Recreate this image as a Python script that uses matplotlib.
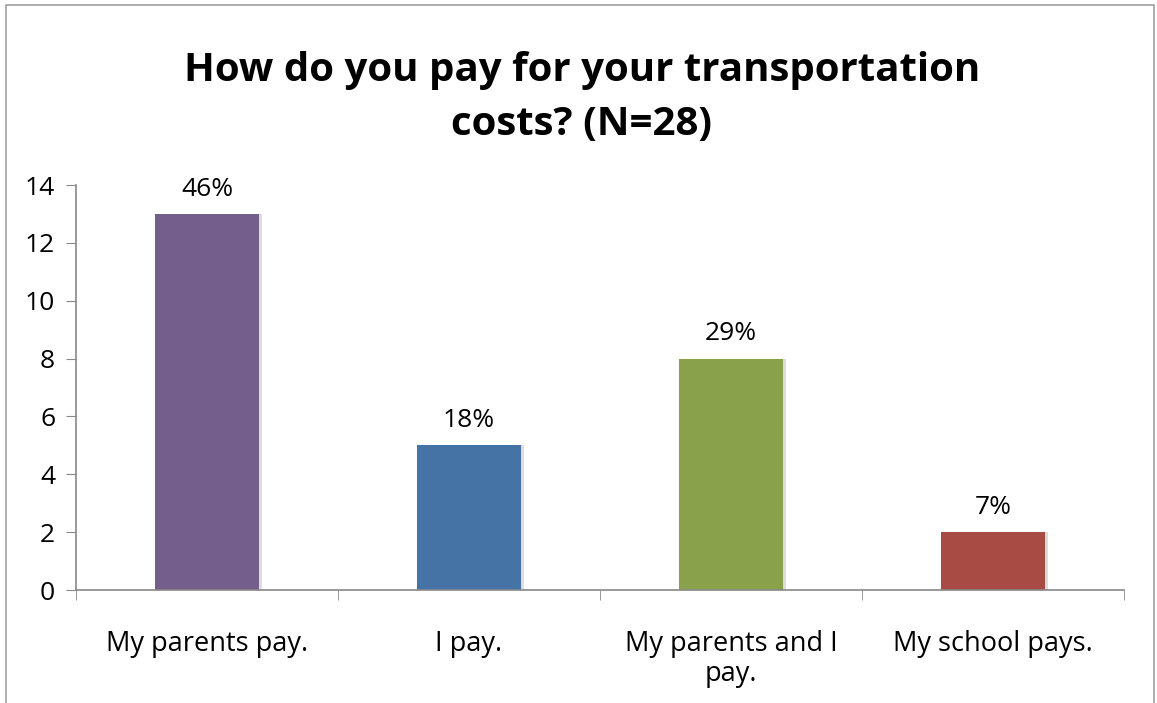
import numpy as np
import matplotlib.pyplot as plt
from matplotlib.patches import Rectangle

categories = ['My parents pay.', 'I pay.', 'My parents and I\npay.', 'My school pays.']
counts = [13, 5, 8, 2]
pct_labels = ['46%', '18%', '29%', '7%']
colors = ['#745E8B', '#4573A6', '#89A14B', '#A84B45']

plt.rcParams['font.family'] = ['Open Sans', 'DejaVu Sans']

fig = plt.figure(figsize=(11.57, 7.03), dpi=100)
ax = fig.add_axes([0.0657, 0.1607, 0.9058, 0.5761])

x = np.arange(len(categories))
# faint shadow behind bars
ax.bar(x + 0.01, counts, width=0.40, color='#dcdcdc', zorder=1)
bars = ax.bar(x, counts, width=0.40, color=colors, zorder=2)

for b, lab in zip(bars, pct_labels):
    ax.text(b.get_x() + b.get_width() / 2, b.get_height() + 0.42, lab,
            ha='center', va='bottom', fontsize=19)

ax.set_xlim(-0.5, 3.5)
ax.set_ylim(0, 14)
ax.set_yticks(range(0, 15, 2))
ax.set_xticks(x)
ax.set_xticklabels(categories, fontsize=19.5, linespacing=1.1)
ax.set_xticks(np.arange(-0.5, 4.0, 1.0), minor=True)
ax.tick_params(axis='x', which='major', length=0, pad=29)
ax.tick_params(axis='x', which='minor', length=7, color='#888888', direction='out')
ax.tick_params(axis='y', labelsize=19, length=7, color='#888888', direction='out', pad=8)

for s in ['top', 'right']:
    ax.spines[s].set_visible(False)
for s in ['left', 'bottom']:
    ax.spines[s].set_color('#888888')
    ax.spines[s].set_linewidth(1.2)

fig.text(0.503, 0.862, 'How do you pay for your transportation\ncosts? (N=28)',
         ha='center', va='center', fontsize=29, fontweight='bold', linespacing=1.5)

# outer chart border
fig.patches.append(Rectangle((0.005, -0.01), 0.992, 1.003, transform=fig.transFigure,
                             fill=False, edgecolor='#a0a0a0', linewidth=1.2))

fig.savefig('out.png', dpi=100)
